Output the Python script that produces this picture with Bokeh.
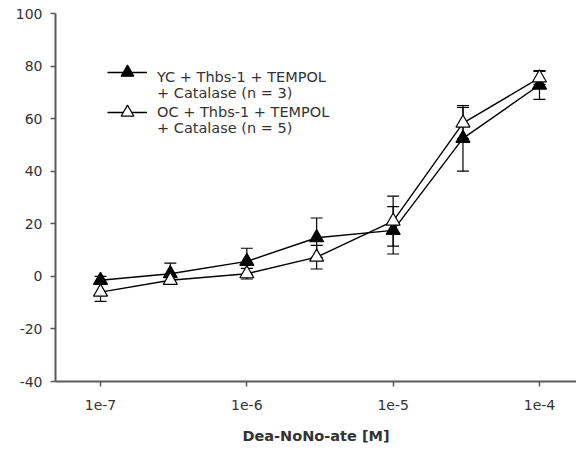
import numpy as np
from bokeh.plotting import figure
from bokeh.models import (ColumnDataSource, Whisker, TeeHead, Legend, LegendItem,
                          FixedTicker, Range1d)
from bokeh.embed import file_html
from bokeh.resources import INLINE

conc = [1e-7, 3e-7, 1e-6, 3e-6, 1e-5, 3e-5, 1e-4]
yc_mean = [-1.5, 1.0, 5.7, 14.7, 17.5, 52.5, 72.8]
yc_err = [1.5, 4.0, 5.0, 7.5, 9.0, 12.5, 5.5]
oc_mean = [-6.0, -1.5, 1.0, 7.3, 21.0, 58.3, 75.5]
oc_err = [3.5, 1.5, 2.0, 4.5, 9.5, 6.0, 2.5]
x_ticks = [1e-7, 1e-6, 1e-5, 1e-4]
x_tick_labels = ["1e-7", "1e-6", "1e-5", "1e-4"]
y_ticks = [-40, -20, 0, 20, 40, 60, 80, 100]
y_tick_labels = ["-40", "-20", "0", "20", "40", "60", "80", "100"]
yc_label = ["YC + Thbs-1 + TEMPOL", "+ Catalase (n = 3)"]
oc_label = ["OC + Thbs-1 + TEMPOL", "+ Catalase (n = 5)"]
x_label = "Dea-NoNo-ate [M]"

FONT = "DejaVu Sans"
AXIS_COLOR = "#5a5a5a"
TEXT_COLOR = "#333333"

p = figure(width=576, height=450, output_backend="svg", toolbar_location=None,
           x_axis_type="log",
           x_range=Range1d(10 ** -7.3076, 10 ** -3.747),
           y_range=Range1d(-40, 100),
           min_border_left=55, min_border_right=0, min_border_top=13,
           min_border_bottom=69)
p.outline_line_color = None
p.grid.visible = False
p.background_fill_color = "white"
p.border_fill_color = "white"

yc = ColumnDataSource(dict(x=conc, y=yc_mean,
                           lo=[m - e for m, e in zip(yc_mean, yc_err)],
                           hi=[m + e for m, e in zip(yc_mean, yc_err)]))
oc = ColumnDataSource(dict(x=conc, y=oc_mean,
                           lo=[m - e for m, e in zip(oc_mean, oc_err)],
                           hi=[m + e for m, e in zip(oc_mean, oc_err)]))

l1 = p.line("x", "y", source=yc, line_color="black", line_width=1.4)
l2 = p.line("x", "y", source=oc, line_color="black", line_width=1.4)

for src in (yc, oc):
    w = Whisker(base="x", lower="lo", upper="hi", source=src,
                line_color="black", line_width=1.2,
                upper_head=TeeHead(size=12, line_color="black", line_width=1.2),
                lower_head=TeeHead(size=12, line_color="black", line_width=1.2))
    p.add_layout(w)

s1 = p.scatter("x", "y", source=yc, marker="triangle", size=14,
               fill_color="black", line_color="black", line_width=1.2)
s2 = p.scatter("x", "y", source=oc, marker="triangle", size=14,
               fill_color="white", line_color="black", line_width=1.2)

# invisible renderer used for the text-only legend rows
blank = p.line(x=[], y=[], line_alpha=0)

# axes
for ax in (p.xaxis[0], p.yaxis[0]):
    ax.axis_line_color = AXIS_COLOR
    ax.axis_line_width = 2
    ax.major_tick_line_color = AXIS_COLOR
    ax.major_tick_line_width = 1.5
    ax.major_tick_out = 5
    ax.major_tick_in = 0
    ax.minor_tick_line_color = None
    ax.major_label_text_font = FONT
    ax.major_label_text_font_size = "14px"
    ax.major_label_text_color = TEXT_COLOR

p.xaxis.ticker = FixedTicker(ticks=x_ticks)
p.xaxis.major_label_overrides = {t: lab for t, lab in zip(x_ticks, x_tick_labels)}
p.xaxis.major_label_standoff = 13
p.xaxis.axis_label = x_label
p.xaxis.axis_label_text_font = FONT
p.xaxis.axis_label_text_font_size = "14.5px"
p.xaxis.axis_label_text_font_style = "bold"
p.xaxis.axis_label_text_color = TEXT_COLOR
p.xaxis.axis_label_standoff = 15

p.yaxis.ticker = FixedTicker(ticks=y_ticks)
p.yaxis.major_label_overrides = {t: lab for t, lab in zip(y_ticks, y_tick_labels)}
p.yaxis.major_label_standoff = 8


def style_legend(lg):
    lg.border_line_color = None
    lg.background_fill_alpha = 0
    lg.label_text_font = FONT
    lg.label_text_font_size = "14.5px"
    lg.label_text_color = TEXT_COLOR
    lg.padding = 0
    lg.margin = 0
    return lg


def text_legend(lines, loc):
    lg = Legend(items=[LegendItem(label=lines[0], renderers=[blank]),
                       LegendItem(label=lines[1], renderers=[blank])],
                location=loc)
    style_legend(lg)
    lg.glyph_width = 40
    lg.glyph_height = 14
    lg.label_height = 14
    lg.label_standoff = 10
    lg.spacing = -4
    return lg


# symbol column of the legend (larger glyph box so the markers match the plot)
sym = Legend(items=[LegendItem(label=" ", renderers=[l1, s1]),
                    LegendItem(label=" ", renderers=[l2, s2])],
             location=(52, 253))
style_legend(sym)
sym.glyph_width = 40
sym.glyph_height = 32
sym.label_standoff = 0
sym.spacing = 8

p.add_layout(sym)
p.add_layout(text_legend(yc_label, (52, 280)))
p.add_layout(text_legend(oc_label, (52, 245)))

open("out.html", "w").write(file_html(p, INLINE))
